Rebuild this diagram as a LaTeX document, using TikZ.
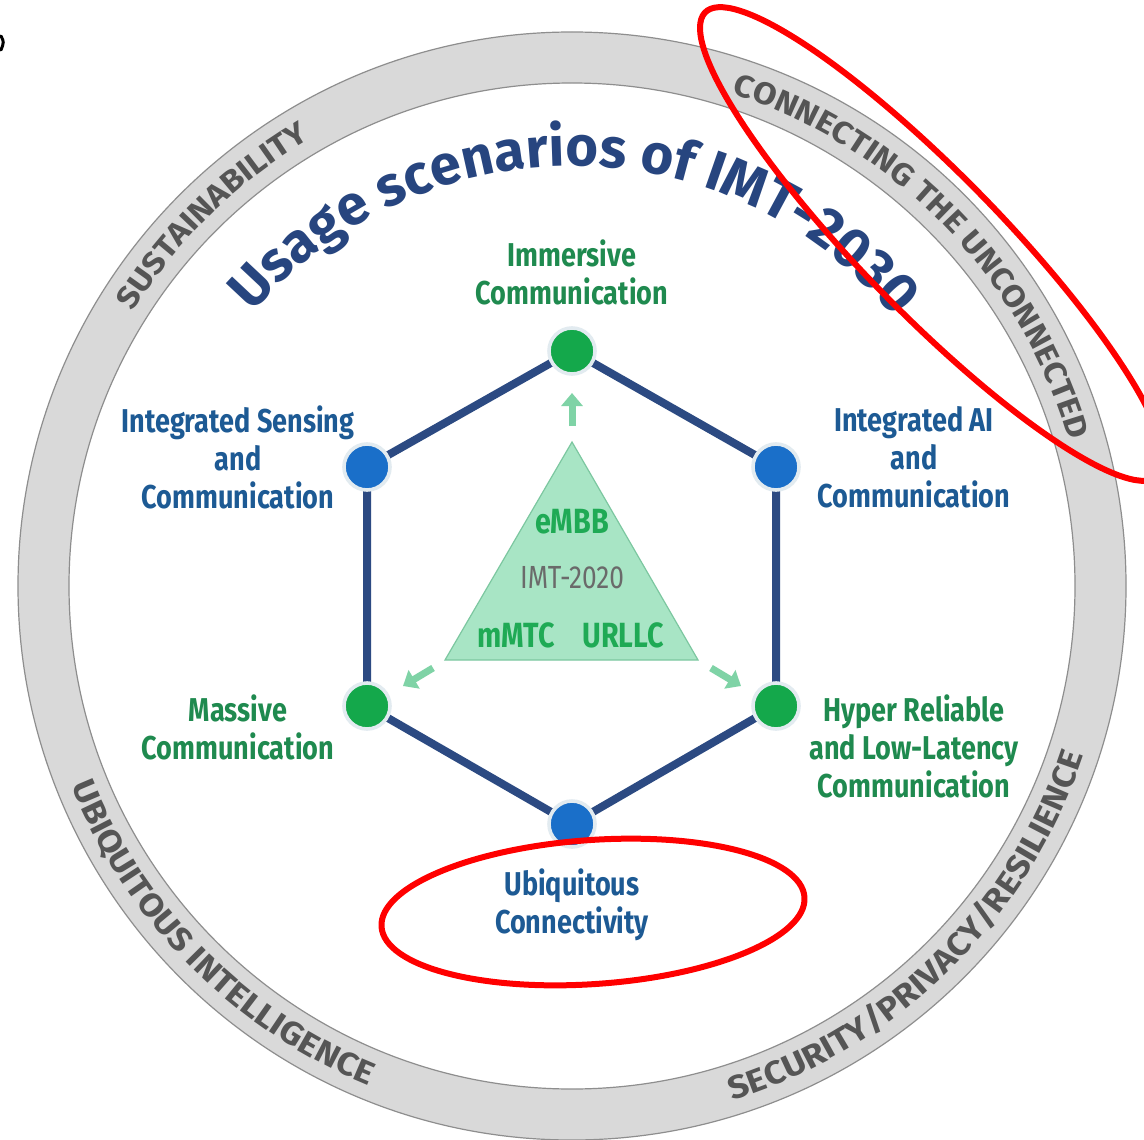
\documentclass[tikz,border=0pt]{standalone}
\usepackage{fontspec}
\usetikzlibrary{decorations.text, arrows.meta}
\newfontfamily\lblfont[FakeStretch=0.82]{Fira Sans}
\newfontfamily\titlefont{Fira Sans}
\newfontfamily\ringfont[FakeStretch=1.1]{Fira Sans}
\definecolor{ringfill}{HTML}{D9D9D9}
\definecolor{ringedge}{HTML}{8E8E8E}
\definecolor{ringtext}{HTML}{555555}
\definecolor{navy}{HTML}{27457F}
\definecolor{hexline}{HTML}{2C4A82}
\definecolor{nodeblue}{HTML}{1A6FC9}
\definecolor{nodegreen}{HTML}{14A84B}
\definecolor{txtblue}{HTML}{1D5A94}
\definecolor{txtgreen}{HTML}{1F8A4F}
\definecolor{trifill}{HTML}{A8E5C5}
\definecolor{triedge}{HTML}{7CC7A0}
\definecolor{tritext}{HTML}{1FAA55}
\definecolor{trigrey}{HTML}{6A6A6A}
\definecolor{arrowgreen}{HTML}{7FD3A6}
\definecolor{nodering}{HTML}{E2EBF0}
\definecolor{markred}{HTML}{FF0000}
\pgfdeclarelayer{ringlayer}
\pgfdeclarelayer{edgelayer}
\pgfsetlayers{ringlayer,edgelayer,main}
\begin{document}
\begin{tikzpicture}[x=0.5pt, y=0.5pt,
  vtx/.style={circle, minimum size=23pt, inner sep=0pt, line width=1.8pt, draw=nodering},
  bluevtx/.style={vtx, fill=nodeblue},
  greenvtx/.style={vtx, fill=nodegreen},
  lbl/.style={font=\lblfont\bfseries\fontsize{16.5}{19}\selectfont, align=center, inner sep=0pt},
  bluelbl/.style={lbl, text=txtblue},
  greenlbl/.style={lbl, text=txtgreen},
  tritxt/.style={font=\lblfont\bfseries\fontsize{17.5}{18}\selectfont, text=tritext, inner sep=0pt},
  trigreytxt/.style={font=\lblfont\fontsize{16}{18}\selectfont, text=trigrey, inner sep=0pt},
  hexedge/.style={draw=hexline, line width=4pt, line join=round},
  triarrow/.style={draw=arrowgreen, line width=3.5pt, -{Triangle[width=10.5pt, length=6.5pt]}},
  markup/.style={draw=markred, line width=3pt},
  ringlabel/.style={decorate, decoration={text along path, text align=center,
      text={|\ringfont\bfseries\fontsize{15.5}{15.5}\selectfont\color{ringtext}|#1}}},
  ringlabelb/.style={decorate, decoration={text along path, text align=center,
      text={|\ringfont\bfseries\fontsize{16.2}{16.2}\selectfont\color{ringtext}|#1}}},
]
\useasboundingbox (0,0) rectangle (1144,-1139);
\coordinate (C) at (572,-586);

\begin{pgfonlayer}{ringlayer}
\fill[white] (0,0) rectangle (1144,-1139);
\fill[ringfill, even odd rule] (C) circle (554) (C) circle (503);
\draw[ringedge, line width=0.6pt] (C) circle (554) (C) circle (503);
\path[shift={(572,-586)}, ringlabel={SUSTAINABILITY}] (174.2:518) arc[start angle=174.2, end angle=94.2, radius=518];
\path[shift={(572,-586)}, ringlabel={CONNECTING THE UNCONNECTED}] (84.2:518) arc[start angle=84.2, end angle=4.2, radius=518];
\path[shift={(572,-586)}, ringlabelb={UBIQUITOUS INTELLIGENCE}] (184.8:539) arc[start angle=184.8, end angle=264.8, radius=539];
\path[shift={(572,-586)}, ringlabelb={SECURITY/PRIVACY/RESILIENCE}] (274.5:539) arc[start angle=274.5, end angle=354.5, radius=539];
\end{pgfonlayer}

% title
\path[shift={(572,-586)}, decorate, decoration={text along path, text align=center,
   text={|\titlefont\bfseries\fontsize{28}{28}\selectfont\color{navy}|Usage scenarios of IMT-2030}}]
   (159.5:420) arc[start angle=159.5, end angle=19.5, radius=420];

% hexagon vertices
\node[greenvtx] (imm) at (572,-351) {};
\node[bluevtx] (isac) at (367,-467) {};
\node[bluevtx] (iaac) at (776,-467) {};
\node[greenvtx] (mass) at (367,-706) {};
\node[greenvtx] (hrllc) at (776,-706) {};
\node[bluevtx] (ubiq) at (572,-824) {};

\begin{pgfonlayer}{edgelayer}
\draw[hexedge] (imm.center) -- (iaac.center) -- (hrllc.center) -- (ubiq.center) -- (mass.center) -- (isac.center) -- cycle;
\end{pgfonlayer}

% labels
\node[greenlbl] (immL) at (572,-272) {Immersive\\Communication};
\node[bluelbl] (isacL) at (238,-457) {Integrated Sensing\\and\\Communication};
\node[bluelbl] (iaacL) at (914,-457) {Integrated AI\\and\\Communication};
\node[greenlbl] (massL) at (238,-727) {Massive\\Communication};
\node[greenlbl] (hrllcL) at (914,-746) {Hyper Reliable\\and Low-Latency\\Communication};
\node[bluelbl] (ubiqL) at (572,-905) {Ubiquitous\\Connectivity};

% central triangle
\path[fill=trifill, draw=triedge, line width=0.6pt] (572,-442) -- (445,-660) -- (698,-660) -- cycle;
\node[tritxt] (embb) at (572,-522) {eMBB};
\node[trigreytxt] (imt) at (572,-578) {IMT-2020};
\node[tritxt] (mmtc) at (516,-635) {mMTC};
\node[tritxt] (urllc) at (623,-635) {URLLC};

% small arrows
\coordinate (upS) at (572,-426); \coordinate (upT) at (572,-393);
\coordinate (lS) at (433,-668); \coordinate (lT) at (403,-686);
\coordinate (rS) at (711,-668); \coordinate (rT) at (741,-686);
\draw[triarrow] (upS) -- (upT);
\draw[triarrow] (lS) -- (lT);
\draw[triarrow] (rS) -- (rT);

% red annotation ellipses
\draw[markup, rotate around={4:(593,-912)}] (593,-912) ellipse [x radius=212, y radius=72];
\draw[markup, cm={232,-216,0,-97,(932,-244)}] (0,0) circle (1);

% small black mark at top-left
\draw[line width=1.5pt, line cap=round] (1,-36) .. controls (4,-42) .. (1,-50);
\end{tikzpicture}
\end{document}
